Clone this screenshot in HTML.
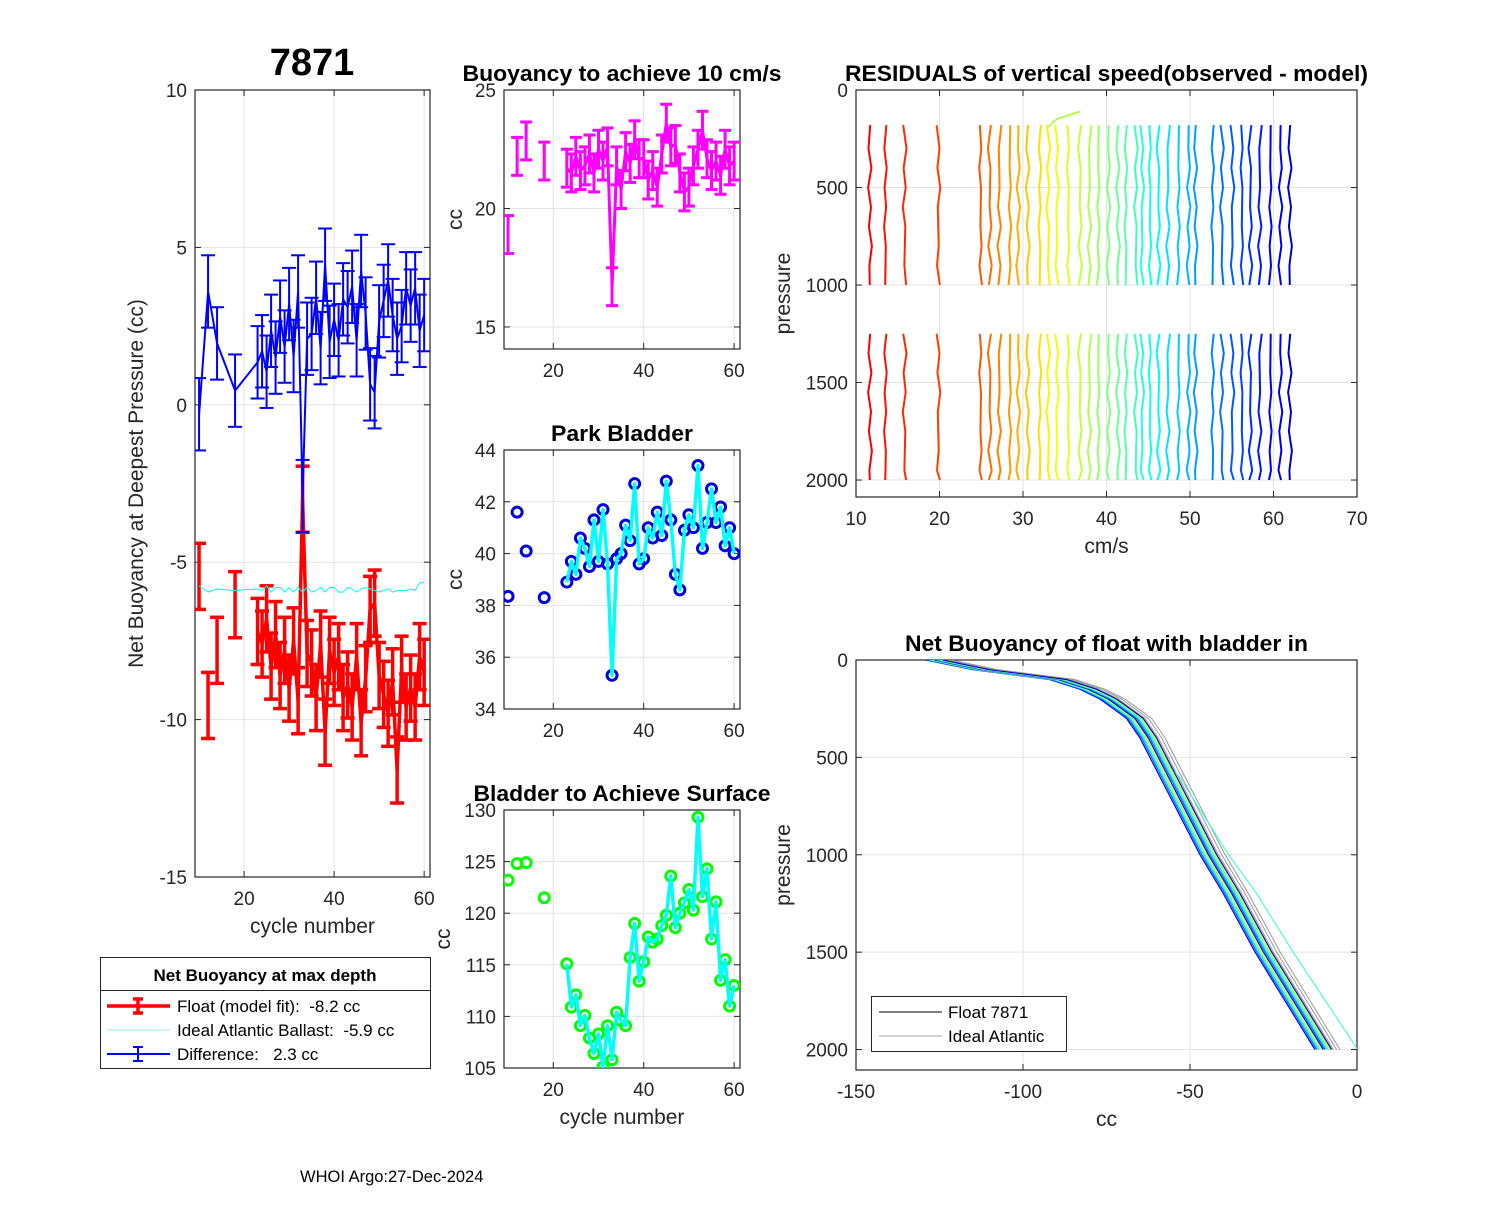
<!DOCTYPE html>
<html><head><meta charset="utf-8"><style>
body{margin:0;background:#fff}
svg text{font-family:"Liberation Sans",Arial,sans-serif;white-space:pre}
</style></head><body>
<svg id="fig" width="1500" height="1200" viewBox="0 0 1500 1200" xmlns="http://www.w3.org/2000/svg">
<rect width="1500" height="1200" fill="#fff"/>
<g id="layer"></g>
<text x="312" y="75" text-anchor="middle" font-size="38" font-weight="bold">7871</text>
<text x="300" y="1182" font-size="16.5">WHOI Argo:27-Dec-2024</text>
</svg>
<script>
// ---- data ----
const earlyCycles=[10,12,14,18];
const seriesCycles=[23,24,25,26,27,28,29,30,31,32,33,34,35,36,37,38,39,40,41,42,43,44,45,46,47,48,49,50,51,52,53,54,55,56,57,58,59,60];
const floatEarly=[-5.45,-9.55,-7.8,-6.35];
const floatSeries=[-7.2,-7.6,-6.8,-8.3,-7.3,-8.6,-7.8,-9.0,-7.5,-9.4,-3.0,-7.9,-8.2,-9.3,-7.6,-10.4,-7.8,-8.5,-8.0,-9.3,-8.9,-9.6,-8.0,-10.1,-8.7,-6.5,-6.3,-8.6,-9.2,-9.8,-8.8,-11.6,-8.4,-9.6,-9.0,-9.6,-8.0,-8.5];
const idealEarly=[-5.75,-5.95,-5.85,-5.9];
const idealSeries=[-5.85,-5.9,-5.75,-5.95,-5.8,-5.8,-5.95,-5.8,-5.95,-5.8,-5.95,-5.8,-5.95,-5.9,-5.8,-5.95,-5.8,-5.8,-5.95,-5.95,-5.8,-5.85,-5.95,-5.85,-5.8,-5.85,-5.9,-5.95,-5.9,-5.85,-5.95,-5.9,-5.9,-5.9,-5.85,-5.9,-5.65,-5.65];
const diffEarly=[-0.3,3.6,1.95,0.45];
const diffSeries=[1.35,1.7,1.05,2.35,1.5,2.8,1.85,3.2,1.55,3.6,-2.9,2.1,2.25,3.4,1.8,4.45,2.0,2.7,2.05,3.35,3.1,3.75,2.05,4.25,2.9,0.65,0.4,2.65,3.3,3.95,2.85,2.1,2.5,3.7,3.15,3.7,2.35,2.85];
const floatErr=1.05, diffErr=1.15;
const buoyEarly=[18.9,22.2,22.85,22.0];
const buoySeries=[21.7,21.5,22.2,21.6,21.8,22.3,21.5,22.5,22.0,22.6,16.7,21.8,20.8,22.4,21.9,22.9,22.1,22.1,21.2,21.6,20.9,22.3,23.6,22.6,22.7,21.5,20.7,20.9,21.8,22.5,23.3,22.1,21.6,22.0,21.4,22.5,21.8,22.0];
const buoyErr=0.8;
const parkEarly=[38.35,41.6,40.1,38.3];
const parkSeries=[38.9,39.7,39.2,40.6,40.2,39.5,41.3,39.7,41.7,39.6,35.3,39.8,40.0,41.1,40.5,42.7,39.6,39.8,41.0,40.6,41.6,40.7,42.8,41.3,39.2,38.6,40.9,41.5,41.0,43.4,40.2,41.2,42.5,41.2,41.8,40.3,41.0,40.0];
const surfEarly=[123.2,124.8,124.9,121.5];
const surfSeries=[115.1,110.9,112.1,109.1,110.1,107.9,106.4,108.3,105.1,109.1,105.8,110.4,109.6,109.1,115.7,119.0,113.4,115.3,117.7,117.2,117.5,118.8,119.8,123.6,118.6,120.0,121.0,122.3,120.3,129.3,121.6,124.3,117.5,121.1,113.5,115.5,111.0,113.0];
const residOffsets=[11.7,13.5,15.8,19.9,24.9,26.0,27.2,28.4,29.4,30.6,32.0,33.0,34.1,35.4,36.8,38.0,39.0,40.2,41.4,42.3,43.5,44.3,45.2,46.2,47.4,48.6,49.8,50.7,52.7,53.8,55.1,56.2,57.2,58.4,59.6,60.8,62.0];
const residDepthsA=[180,300,400,500,600,700,800,900,1000];
const residDepthsB=[1250,1350,1450,1550,1650,1750,1850,1950,2000];
const residWiggle=[0,0.2,-0.15,0.25,-0.1,0.15,-0.2,0.1,0.05];
const nbPres=[0,25,50,100,150,200,250,300,400,500,600,800,1000,1200,1500,2000];
const nbCC=[-126,-119,-112,-89,-80,-74,-70,-66,-62,-59,-56,-50,-44,-37,-27.5,-9.6];
const nbOffsets=[-3,-2.5,-2,-1.5,-1,-0.5,0,0.5,1,1.5,2];
const nbGrayOffsets=[1.5,2.5,3.5,4.5];
// ---- helpers ----
const NS='http://www.w3.org/2000/svg';
const layer=document.getElementById('layer');
function mk(tag,attrs,parent){const e=document.createElementNS(NS,tag);for(const k in attrs)e.setAttribute(k,attrs[k]);(parent||layer).appendChild(e);return e;}
function jet(t){function f(x){return Math.max(0,Math.min(1,x));}const r=f(1.5-Math.abs(4*t-3)),g=f(1.5-Math.abs(4*t-2)),b=f(1.5-Math.abs(4*t-1));return `rgb(${Math.round(r*255)},${Math.round(g*255)},${Math.round(b*255)})`;}
function axes(o){
  const sx=v=>o.x0+(v-o.xmin)/(o.xmax-o.xmin)*(o.x1-o.x0);
  const sy=o.rev?(v=>o.y0+(v-o.ymin)/(o.ymax-o.ymin)*(o.y1-o.y0)):(v=>o.y1-(v-o.ymin)/(o.ymax-o.ymin)*(o.y1-o.y0));
  const g=mk('g',{});
  
  
  o.xticks.forEach(t=>{const x=sx(t);
    const l=mk('line',{x1:x,x2:x,y1:o.y0,y2:o.y1,stroke:'#e3e3e3','stroke-width':1},g);
    
    mk('line',{x1:x,x2:x,y1:o.y1,y2:o.y1-6,stroke:'#262626'},g);mk('line',{x1:x,x2:x,y1:o.y0,y2:o.y0+6,stroke:'#262626'},g);
    const tx=mk('text',{x:x,y:o.y1+28,'text-anchor':'middle','font-size':19,fill:'#262626'},g);tx.textContent=t;
    });
  o.yticks.forEach(t=>{const y=sy(t);
    const l=mk('line',{x1:o.x0,x2:o.x1,y1:y,y2:y,stroke:'#e3e3e3','stroke-width':1},g);
    
    mk('line',{x1:o.x0,x2:o.x0+6,y1:y,y2:y,stroke:'#262626'},g);mk('line',{x1:o.x1,x2:o.x1-6,y1:y,y2:y,stroke:'#262626'},g);
    const tx=mk('text',{x:o.x0-8,y:y+7,'text-anchor':'end','font-size':19,fill:'#262626'},g);tx.textContent=t;
    });
  mk('rect',{x:o.x0,y:o.y0,width:o.x1-o.x0,height:o.y1-o.y0,fill:'none',stroke:'#262626','stroke-width':1.2},g);
  if(o.title){const t=mk('text',{x:(o.x0+o.x1)/2,y:o.y0-9,'text-anchor':'middle','font-size':22,'font-weight':'bold',textLength:o.tl,lengthAdjust:'spacingAndGlyphs'},g);t.textContent=o.title;}
  if(o.xlabel){const t=mk('text',{x:(o.x0+o.x1)/2,y:o.y1+56,'text-anchor':'middle','font-size':21,fill:'#262626'},g);t.textContent=o.xlabel;}
  if(o.ylabel){const cx=o.ylx,cy=(o.y0+o.y1)/2;const t=mk('text',{x:cx,y:cy,'text-anchor':'middle','font-size':21,fill:'#262626',transform:`rotate(-90 ${cx} ${cy})`},g);t.textContent=o.ylabel;}
  const cp='cp'+o.name;const c=mk('clipPath',{id:cp});mk('rect',{x:o.x0,y:o.y0,width:o.x1-o.x0,height:o.y1-o.y0},c);
  const pg=mk('g',{'clip-path':`url(#${cp})`});
  return {sx,sy,pg};
}
function poly(a,pts,style,name){const p=mk('polyline',Object.assign({points:pts.map(q=>q[0].toFixed(1)+','+q[1].toFixed(1)).join(' '),fill:'none','stroke-linejoin':'round'},style),a.pg);return p;}
function errbars(a,xs,ys,err,color,w,cap,name){xs.forEach((x,i)=>{const X=a.sx(x),Y1=a.sy(ys[i]-err),Y2=a.sy(ys[i]+err);
  const g=mk('g',{stroke:color,'stroke-width':w},a.pg);
  mk('line',{x1:X,x2:X,y1:Y1,y2:Y2},g);mk('line',{x1:X-cap,x2:X+cap,y1:Y1,y2:Y1},g);mk('line',{x1:X-cap,x2:X+cap,y1:Y2,y2:Y2},g);});}
function circles(a,xs,ys,color,name){xs.forEach((x,i)=>{const c=mk('circle',{cx:a.sx(x),cy:a.sy(ys[i]),r:5,fill:'none',stroke:color,'stroke-width':3},a.pg);});}
// ---- left panel ----
const A=axes({name:'net-buoyancy-panel',x0:195,x1:430,y0:90,y1:877,xmin:9.1,xmax:61.3,ymin:-15,ymax:10,xticks:[20,40,60],yticks:[-15,-10,-5,0,5,10],xlabel:'cycle number',ylabel:'Net Buoyancy at Deepest Pressure (cc)',ylx:143});
errbars(A,earlyCycles,floatEarly,floatErr,'#f00',3.5,7,'float-errorbar');
errbars(A,seriesCycles,floatSeries,floatErr,'#f00',3.5,7,'float-errorbar');
poly(A,seriesCycles.map((c,i)=>[A.sx(c),A.sy(floatSeries[i])]),{stroke:'#f00','stroke-width':3.5},'float-line');
poly(A,earlyCycles.concat(seriesCycles).map((c,i)=>[A.sx(c),A.sy(idealEarly.concat(idealSeries)[i])]),{stroke:'#0ff','stroke-width':1},'ideal-ballast-line');
errbars(A,earlyCycles.concat(seriesCycles),diffEarly.concat(diffSeries),diffErr,'#00f',2,7,'difference-errorbar');
poly(A,earlyCycles.concat(seriesCycles).map((c,i)=>[A.sx(c),A.sy(diffEarly.concat(diffSeries)[i])]),{stroke:'#00f','stroke-width':2},'difference-line');
// ---- mid1 ----
const B=axes({name:'buoyancy-10cms-panel',x0:504,x1:740,y0:90,y1:349,xmin:9.1,xmax:61.3,ymin:14.07,ymax:25,xticks:[20,40,60],yticks:[15,20,25],title:'Buoyancy to achieve 10 cm/s',tl:319,ylabel:'cc',ylx:462});
errbars(B,earlyCycles,buoyEarly,buoyErr,'#f0f',3,6,'buoyancy-errorbar');
errbars(B,seriesCycles,buoySeries,buoyErr,'#f0f',3,6,'buoyancy-errorbar');
poly(B,seriesCycles.map((c,i)=>[B.sx(c),B.sy(buoySeries[i])]),{stroke:'#f0f','stroke-width':3},'buoyancy-line');
// ---- mid2 ----
const C=axes({name:'park-bladder-panel',x0:504,x1:740,y0:450,y1:709,xmin:9.1,xmax:61.3,ymin:34,ymax:44,xticks:[20,40,60],yticks:[34,36,38,40,42,44],title:'Park Bladder',tl:142,ylabel:'cc',ylx:462});
circles(C,earlyCycles,parkEarly,'#0000e0','park-marker');
circles(C,seriesCycles,parkSeries,'#0000e0','park-marker');
poly(C,seriesCycles.map((c,i)=>[C.sx(c),C.sy(parkSeries[i])]),{stroke:'#0ff','stroke-width':3.5},'park-line');
// ---- mid3 ----
const D=axes({name:'bladder-surface-panel',x0:504,x1:740,y0:810,y1:1068,xmin:9.1,xmax:61.3,ymin:105,ymax:130,xticks:[20,40,60],yticks:[105,110,115,120,125,130],title:'Bladder to Achieve Surface',tl:297,xlabel:'cycle number',ylabel:'cc',ylx:450});
circles(D,earlyCycles,surfEarly,'#0f0','surface-marker');
circles(D,seriesCycles,surfSeries,'#0f0','surface-marker');
poly(D,seriesCycles.map((c,i)=>[D.sx(c),D.sy(surfSeries[i])]),{stroke:'#0ff','stroke-width':3.5},'surface-line');
// ---- residuals ----
const E=axes({name:'residuals-panel',x0:856,x1:1357,y0:90,y1:497,xmin:10,xmax:70,ymin:0,ymax:2087,rev:true,xticks:[10,20,30,40,50,60,70],yticks:[0,500,1000,1500,2000],title:'RESIDUALS of vertical speed(observed - model)',tl:523,xlabel:'cm/s',ylabel:'pressure',ylx:790});
residOffsets.forEach((off,i)=>{const col=jet(0.88-0.8*i/(residOffsets.length-1));const s=((i%3)-1)||0.7;
  [residDepthsA,residDepthsB].forEach(ds=>{poly(E,ds.map((d,k)=>[E.sx(off+residWiggle[(k+i)%residWiggle.length]*s),E.sy(d)]),{stroke:col,'stroke-width':2},'residual-profile');});});
poly(E,[[E.sx(33),E.sy(190)],[E.sx(34),E.sy(150)],[E.sx(36.8),E.sy(110)]],{stroke:jet(0.55),'stroke-width':2},'residual-profile');
// ---- net buoyancy profiles ----
const F=axes({name:'bladder-in-panel',x0:856,x1:1357,y0:660,y1:1070,xmin:-150,xmax:0,ymin:0,ymax:2105,rev:true,xticks:[-150,-100,-50,0],yticks:[0,500,1000,1500,2000],title:'Net Buoyancy of float with bladder in',tl:403,xlabel:'cc',ylabel:'pressure',ylx:790});
nbGrayOffsets.forEach(o=>poly(F,nbPres.map((p,k)=>[F.sx(nbCC[k]+o),F.sy(p)]),{stroke:'#999','stroke-width':1},'ideal-atlantic-profile'));
poly(F,nbPres.map((p,k)=>[F.sx(nbCC[k]+(k>8?(k-8)*1.4:2)),F.sy(p)]),{stroke:'#3fc','stroke-width':1},'outlier-profile');
nbOffsets.forEach((o,i)=>poly(F,nbPres.map((p,k)=>[F.sx(nbCC[k]+o),F.sy(p)]),{stroke:jet(0.1+0.6*(i%5)/5),'stroke-width':1.2},'float-profile'));
// ---- legends ----
function legend(){
  let g=mk('g',{});
  mk('rect',{x:100.5,y:957.5,width:330,height:111,fill:'#fff',stroke:'#262626'},g);
  mk('line',{x1:100,x2:430,y1:990.5,y2:990.5,stroke:'#262626'},g);
  let t=mk('text',{x:265,y:981,'text-anchor':'middle','font-size':17,'font-weight':'bold'},g);t.textContent='Net Buoyancy at max depth';
  const items=[['#f00',3.5,true,'Float (model fit):  -8.2 cc',1006],['#9ee',1,false,'Ideal Atlantic Ballast:  -5.9 cc',1030],['#00f',2,true,'Difference:   2.3 cc',1054]];
  items.forEach(it=>{const e=mk('g',{},g);
    mk('line',{x1:107,x2:170,y1:it[4],y2:it[4],stroke:it[0],'stroke-width':it[1]},e);
    if(it[2]){mk('line',{x1:138,x2:138,y1:it[4]-7,y2:it[4]+7,stroke:it[0],'stroke-width':it[1]},e);mk('line',{x1:133,x2:143,y1:it[4]-7,y2:it[4]-7,stroke:it[0],'stroke-width':it[1]},e);mk('line',{x1:133,x2:143,y1:it[4]+7,y2:it[4]+7,stroke:it[0],'stroke-width':it[1]},e);}
    const tx=mk('text',{x:177,y:it[4]+6,'font-size':17},e);tx.textContent=it[3];});
  g=mk('g',{});
  mk('rect',{x:871.5,y:996.5,width:195,height:55,fill:'#fff',stroke:'#262626'},g);
  [['#000','Float 7871',1012],['#aaa','Ideal Atlantic',1036]].forEach(it=>{const e=mk('g',{},g);
    mk('line',{x1:879,x2:942,y1:it[2],y2:it[2],stroke:it[0],'stroke-width':1},e);
    const tx=mk('text',{x:948,y:it[2]+6,'font-size':17},e);tx.textContent=it[1];});
}
legend();
</script>
</body></html>
